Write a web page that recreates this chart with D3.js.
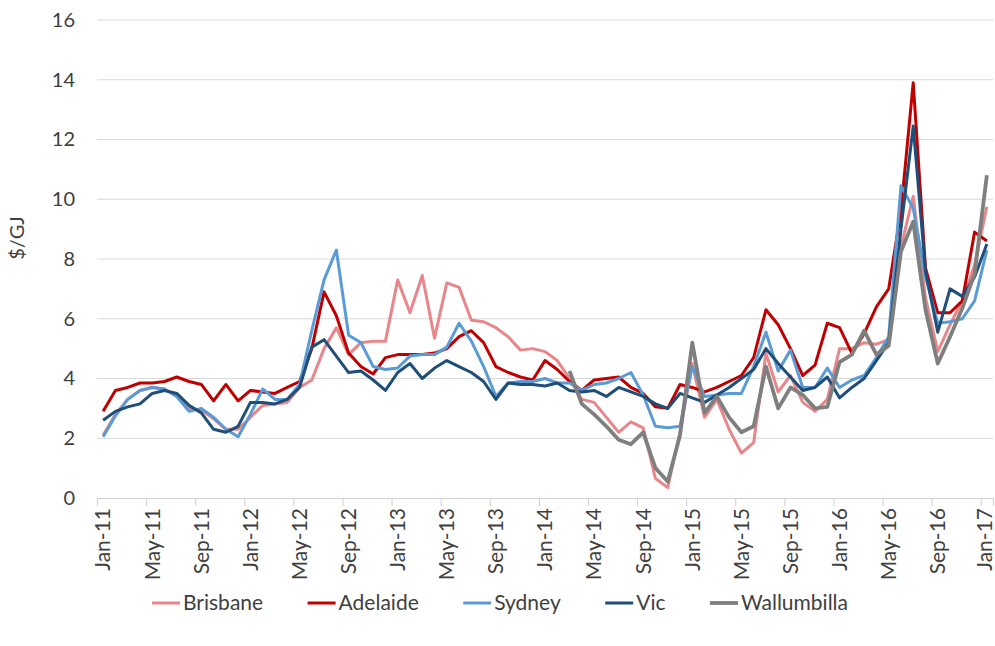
<!DOCTYPE html>
<html>
<head>
<meta charset="utf-8">
<script src="https://cdn.jsdelivr.net/npm/d3@7/dist/d3.min.js"></script>
<style>
body { margin: 0; background: #fff; }
text { font-family: Lato, "Open Sans", sans-serif; fill: #404040; }
</style>
</head>
<body>
<div id="chart"></div>
<script>
// monthly prices, Jan-11 .. Jan-17 ($/GJ)
const tickLabels = ["Jan-11", "May-11", "Sep-11", "Jan-12", "May-12", "Sep-12", "Jan-13", "May-13", "Sep-13", "Jan-14",
    "May-14", "Sep-14", "Jan-15", "May-15", "Sep-15", "Jan-16", "May-16", "Sep-16", "Jan-17"];

const brisbane = [2.1, 2.8, 3.3, 3.6, 3.7, 3.65, 3.4, 3.0, 2.95, 2.65, 2.3, 2.3,
    2.7, 3.1, 3.15, 3.2, 3.7, 3.95, 5.0, 5.7, 4.8, 5.2, 5.25, 5.25,
    7.3, 6.2, 7.45, 5.35, 7.2, 7.05, 5.95, 5.9, 5.7, 5.4, 4.95, 5.0,
    4.9, 4.6, 4.0, 3.3, 3.2, 2.7, 2.2, 2.55, 2.35, 0.65, 0.35, 2.2,
    4.5, 2.7, 3.3, 2.3, 1.5, 1.85, 4.85, 3.55, 4.1, 3.2, 2.9, 3.3,
    5.0, 5.0, 5.2, 5.15, 5.3, 8.4, 10.1, 6.7, 4.9, 5.8, 6.6, 7.8,
    9.75];
const adelaide = [2.9, 3.6, 3.7, 3.85, 3.85, 3.9, 4.05, 3.9, 3.8, 3.25, 3.8, 3.25,
    3.6, 3.55, 3.5, 3.7, 3.9, 5.0, 6.9, 6.1, 4.85, 4.4, 4.15, 4.7,
    4.8, 4.8, 4.8, 4.85, 5.0, 5.4, 5.6, 5.2, 4.4, 4.2, 4.05, 3.95,
    4.6, 4.3, 3.9, 3.6, 3.95, 4.0, 4.05, 3.7, 3.5, 3.05, 3.0, 3.8,
    3.7, 3.55, 3.7, 3.9, 4.1, 4.7, 6.3, 5.8, 5.0, 4.1, 4.45, 5.85,
    5.7, 4.85, 5.5, 6.4, 7.0, 9.6, 13.9, 7.7, 6.2, 6.2, 6.6, 8.9,
    8.6];
const sydney = [2.05, 2.75, 3.3, 3.6, 3.7, 3.65, 3.4, 2.9, 3.0, 2.7, 2.3, 2.05,
    2.8, 3.65, 3.3, 3.3, 3.8, 5.6, 7.3, 8.3, 5.45, 5.2, 4.4, 4.3,
    4.35, 4.75, 4.8, 4.8, 5.05, 5.85, 5.25, 4.4, 3.4, 3.85, 3.9, 3.9,
    4.0, 3.85, 3.85, 3.6, 3.8, 3.85, 4.0, 4.2, 3.45, 2.4, 2.35, 2.4,
    4.4, 3.4, 3.45, 3.5, 3.5, 4.4, 5.55, 4.25, 4.95, 3.7, 3.7, 4.35,
    3.7, 3.95, 4.1, 4.7, 5.4, 10.45, 9.7, 7.4, 5.85, 5.9, 6.0, 6.6,
    8.3];
const vic = [2.6, 2.9, 3.05, 3.15, 3.5, 3.6, 3.5, 3.1, 2.85, 2.3, 2.2, 2.4,
    3.2, 3.2, 3.15, 3.3, 3.7, 5.05, 5.3, 4.75, 4.2, 4.25, 3.95, 3.6,
    4.2, 4.5, 4.0, 4.35, 4.6, 4.4, 4.2, 3.9, 3.3, 3.85, 3.8, 3.8,
    3.75, 3.85, 3.6, 3.55, 3.6, 3.4, 3.7, 3.55, 3.4, 3.15, 3.0, 3.5,
    3.35, 3.2, 3.45, 3.7, 4.0, 4.3, 5.0, 4.5, 4.05, 3.6, 3.7, 4.05,
    3.35, 3.7, 4.0, 4.6, 5.2, 9.0, 12.45, 7.6, 5.55, 7.0, 6.75, 7.4,
    8.5];
// Wallumbilla hub prices start in Mar-14
const wallumbilla = [null, null, null, null, null, null, null, null, null, null, null, null,
    null, null, null, null, null, null, null, null, null, null, null, null,
    null, null, null, null, null, null, null, null, null, null, null, null,
    null, null, 4.25, 3.15, 2.8, 2.4, 1.95, 1.8, 2.2, 1.0, 0.55, 2.1,
    5.2, 2.85, 3.4, 2.7, 2.2, 2.4, 4.4, 3.0, 3.7, 3.45, 3.0, 3.05,
    4.55, 4.8, 5.6, 4.8, 5.1, 8.25, 9.25, 6.3, 4.5, 5.4, 6.35, 7.5,
    10.8];

const seriesNames = ["Brisbane", "Adelaide", "Sydney", "Vic", "Wallumbilla"];
const seriesColors = ["#e8868a", "#c00000", "#5b9bd5", "#1f4e79", "#7f7f7f"];
const seriesWidths = [3, 3, 3, 3, 3.8];
const allSeries = [brisbane, adelaide, sydney, vic, wallumbilla];

const width = 995, height = 646;
const margin = {top: 20, right: 2, bottom: 148, left: 97};

const svg = d3.select("#chart").append("svg")
    .attr("width", width)
    .attr("height", height);

const x = d3.scaleLinear()
    .domain([0, brisbane.length])
    .range([margin.left, width - margin.right]);

const y = d3.scaleLinear()
    .domain([0, 16])
    .range([height - margin.bottom, margin.top]);

// gridlines
svg.append("g")
    .selectAll("line")
    .data(d3.range(2, 17, 2))
    .enter()
    .append("line")
    .attr("x1", x(0))
    .attr("x2", x(brisbane.length))
    .attr("y1", d => y(d))
    .attr("y2", d => y(d))
    .attr("stroke", "#d9d9d9")
    .attr("stroke-width", 1);

// y axis labels
svg.append("g")
    .attr("transform", "translate(" + margin.left + ",0)")
    .style("font-size", "20px")
    .call(d3.axisLeft(y).tickValues(d3.range(0, 17, 2)).tickSize(0).tickPadding(22))
    .call(g => g.select(".domain").remove())
    .call(g => g.selectAll("text").attr("fill", "#404040").style("font-family", "Lato, sans-serif"));

svg.append("text")
    .attr("transform", "translate(24,238) rotate(-90)")
    .attr("text-anchor", "middle")
    .style("font-size", "20px")
    .text("$/GJ");

// x axis line and tick marks every 4 months
svg.append("g")
    .attr("transform", "translate(0," + y(0) + ")")
    .call(d3.axisBottom(x).tickValues(d3.range(0, brisbane.length, 4)).tickSize(8).tickFormat(""))
    .call(g => g.selectAll("line").attr("stroke", "#d0d0d0"))
    .call(g => g.select(".domain").attr("stroke", "#d0d0d0"));

svg.append("g")
    .selectAll("text")
    .data(tickLabels)
    .enter()
    .append("text")
    .attr("transform", (d, i) => "translate(" + Math.min(x(i * 4 + 0.5), width - 10) + "," + (y(0) + 10) + ") rotate(-90)")
    .attr("text-anchor", "end")
    .attr("dy", "0.35em")
    .style("font-size", "21px")
    .text(d => d);

// lines
const line = d3.line()
    .defined(d => d !== null)
    .x((d, i) => x(i + 0.5))
    .y(d => y(d));

svg.append("g")
    .selectAll("path")
    .data(allSeries)
    .enter()
    .append("path")
    .attr("d", d => line(d))
    .attr("fill", "none")
    .attr("stroke", (d, i) => seriesColors[i])
    .attr("stroke-width", (d, i) => seriesWidths[i])
    .attr("stroke-linejoin", "round");

// legend, spread between x=152 and x=848 like the original
const legend = svg.append("g").attr("transform", "translate(0,603)");
let items = seriesNames.map((name, i) => {
    let item = legend.append("g");
    item.append("line")
        .attr("x1", 0).attr("x2", 28)
        .attr("y1", 0).attr("y2", 0)
        .attr("stroke", seriesColors[i])
        .attr("stroke-width", seriesWidths[i]);
    let t = item.append("text")
        .attr("x", 31)
        .attr("dy", "0.35em")
        .style("font-size", "21px")
        .text(name);
    return {item: item, w: 31 + t.node().getComputedTextLength()};
});
let total = d3.sum(items, d => d.w);
let gap = (848 - 152 - total) / (items.length - 1);
let lx = 152;
items.forEach(d => {
    d.item.attr("transform", "translate(" + lx + ",0)");
    lx += d.w + gap;
});
</script>
</body>
</html>
